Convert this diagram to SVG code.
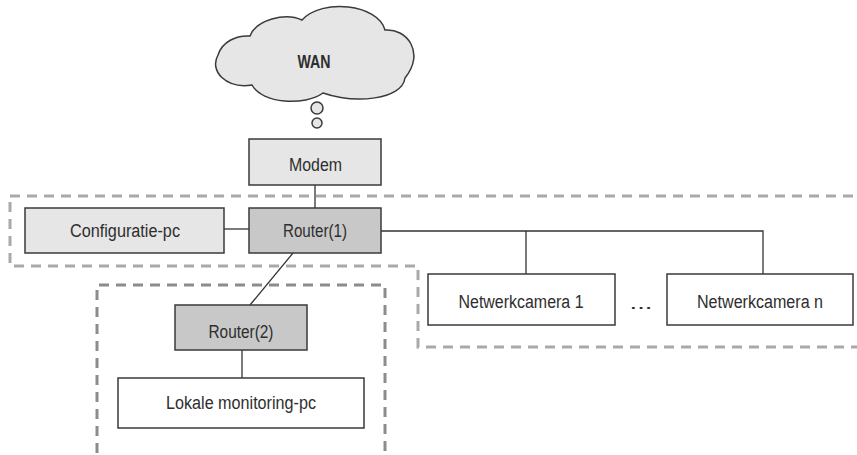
<svg xmlns="http://www.w3.org/2000/svg" width="857" height="455" viewBox="0 0 857 455">
<style>
.box{stroke:#3a3a3a;stroke-width:1.5}
.light{fill:#e6e6e6}
.dark{fill:#c8c8c8}
.white{fill:#ffffff}
.lbl{font-family:"Liberation Sans",Arial,sans-serif;font-size:18px;fill:#2e2e2e;text-anchor:middle}
.wan{font-weight:bold;font-size:18px}
.conn{stroke:#333;stroke-width:1.3;fill:none}
.zone1{fill:none;stroke:#a9a9a9;stroke-width:3;stroke-dasharray:10 7}
.zone2{fill:none;stroke:#8c8c8c;stroke-width:3;stroke-dasharray:10 7}
</style>
<rect width="857" height="455" fill="#ffffff"/>
<g id="zones">
<path class="zone1" d="M10,196 H870 V347 H418 V266 H10 Z"/>
<path class="zone2" d="M97,470 V285 H385 V470"/>
</g>
<g id="connectors">
<line class="conn" x1="315" y1="185" x2="315" y2="208"/>
<line class="conn" x1="224" y1="229" x2="249" y2="229"/>
<polyline class="conn" points="381,231 763,231 763,274"/>
<line class="conn" x1="526" y1="231" x2="526" y2="274"/>
<line class="conn" x1="293" y1="253" x2="250" y2="305"/>
<line class="conn" x1="242" y1="350" x2="242" y2="378"/>
</g>
<g id="wan">
<path class="box light" d="M252,85 C226,89 209,71 218,55 C222,42 236,35 250,36 C256,20 285,12 302,20 C322,-2 378,4 385,30 C406,28 426,52 405,78 C402,100 355,104 323,93 C305,106 262,104 252,85 Z"/>
<circle class="box light" cx="317" cy="108" r="6"/>
<circle class="box light" cx="317" cy="123" r="5"/>
<text class="lbl wan" x="314" y="68" textLength="33" lengthAdjust="spacingAndGlyphs">WAN</text>
</g>
<g id="modem">
<rect class="box light" x="249" y="139" width="132" height="46"/>
<text class="lbl" x="315.5" y="171" textLength="53" lengthAdjust="spacingAndGlyphs">Modem</text>
</g>
<g id="config-pc">
<rect class="box light" x="25" y="208" width="199" height="45"/>
<text class="lbl" x="125" y="237" textLength="110" lengthAdjust="spacingAndGlyphs">Configuratie-pc</text>
</g>
<g id="router1">
<rect class="box dark" x="249" y="208" width="132" height="45"/>
<text class="lbl" x="315" y="237" textLength="64" lengthAdjust="spacingAndGlyphs">Router(1)</text>
</g>
<g id="camera1">
<rect class="box white" x="428" y="274" width="187" height="51"/>
<text class="lbl" x="521" y="308" textLength="125" lengthAdjust="spacingAndGlyphs">Netwerkcamera 1</text>
</g>
<g id="dots">
<text class="lbl" x="641" y="309" textLength="23" lengthAdjust="spacingAndGlyphs">...</text>
</g>
<g id="cameran">
<rect class="box white" x="667" y="274" width="186" height="51"/>
<text class="lbl" x="760" y="308" textLength="126" lengthAdjust="spacingAndGlyphs">Netwerkcamera n</text>
</g>
<g id="router2">
<rect class="box dark" x="175" y="305" width="132" height="45"/>
<text class="lbl" x="241" y="338" textLength="65" lengthAdjust="spacingAndGlyphs">Router(2)</text>
</g>
<g id="monitoring-pc">
<rect class="box white" x="118" y="378" width="246" height="50"/>
<text class="lbl" x="241" y="409" textLength="150" lengthAdjust="spacingAndGlyphs">Lokale monitoring-pc</text>
</g>
</svg>
